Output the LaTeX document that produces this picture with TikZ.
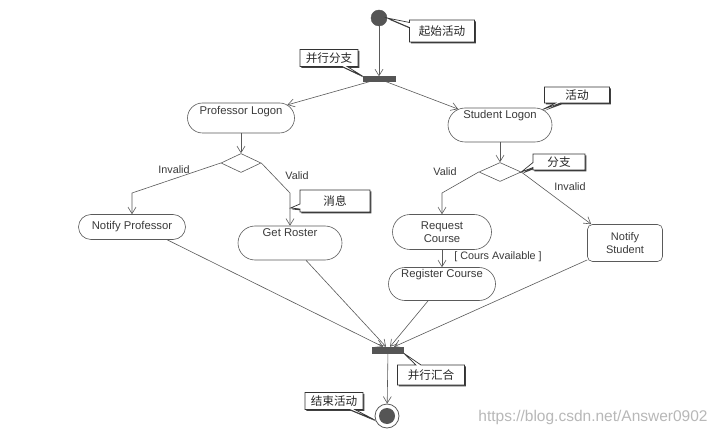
\documentclass[tikz,border=0pt]{standalone}
\usepackage{fontspec}
\setmainfont{Liberation Sans}
\newfontfamily\cjk{Noto Sans CJK SC}
\usetikzlibrary{shapes.misc,shapes.geometric,shapes.callouts,shadows,arrows.meta}
\definecolor{ln}{HTML}{5A5A5A}
\definecolor{tx}{HTML}{3A3A3A}
\definecolor{barc}{HTML}{555555}
\begin{document}
\begin{tikzpicture}[x=1pt,y=-1pt,
  act/.style={rounded rectangle, draw=ln, line width=0.6pt, fill=white,
    font=\fontsize{11.3}{12.5}\selectfont, text=tx, inner sep=0pt, align=center},
  nsbox/.style={rectangle, rounded corners=5pt, draw=ln, line width=0.6pt, fill=white,
    font=\fontsize{11}{13}\selectfont, text=tx, inner sep=0pt, align=center},
  dec/.style={diamond, draw=ln, line width=0.6pt, inner sep=0pt},
  barnode/.style={rectangle, fill=barc, draw=barc, inner sep=0pt},
  flow/.style={draw=ln, line width=0.6pt, -{Straight Barb[length=6.5pt,width=8pt]}},
  lab/.style={font=\fontsize{10.8}{12}\selectfont, text=tx, inner sep=1pt},
  note/.style={rectangle callout, draw=black!80, fill=white, line width=0.7pt,
    font=\cjk\fontsize{11.6}{12}\selectfont, text=black!85, inner sep=0pt,
    callout pointer width=5pt,
    drop shadow={shadow xshift=1.4pt, shadow yshift=-1.4pt, fill=black!75, opacity=1}},
  wm/.style={font=\fontsize{15.5}{17}\selectfont, text=black!28, inner sep=0pt}
]
\useasboundingbox (0,0) rectangle (719,435);
\fill[white] (0,0) rectangle (719,435);

% start / fork
\node[circle, fill=barc, draw=barc, minimum size=16pt, inner sep=0pt] (start) at (379,18) {};
\node[barnode, minimum width=32pt, minimum height=5pt] (fork) at (379,79) {};

% activities
\node[act, minimum width=107pt, minimum height=30pt, text height=8pt, text depth=14pt] (prof) at (241,118) {Professor Logon};
\node[act, minimum width=104pt, minimum height=34pt, text height=8pt, text depth=20pt] (stud) at (500,125) {Student Logon};
\node[dec, minimum width=40pt, minimum height=19pt] (pdec) at (241,163) {};
\node[dec, minimum width=42pt, minimum height=19pt] (sdec) at (500,172) {};
\node[act, minimum width=107pt, minimum height=25pt] (np) at (132,227) {Notify Professor};
\node[act, minimum width=104pt, minimum height=34pt, text height=8pt, text depth=20pt] (gr) at (290,243) {Get Roster};
\node[act, minimum width=99pt, minimum height=35pt] (rc) at (442,232) {Request\\Course};
\node[act, minimum width=107pt, minimum height=33pt, text height=8pt, text depth=22pt] (reg) at (442,284) {Register Course};
\node[nsbox, minimum width=75pt, minimum height=37pt] (ns) at (625,243) {Notify\\Student};

% join / end
\node[barnode, minimum width=31pt, minimum height=6pt] (join) at (388,350) {};
\node[circle, draw=ln, line width=0.8pt, fill=white, minimum size=24pt, inner sep=0pt] (end) at (387,416) {};
\node[circle, fill=barc, minimum size=16pt, inner sep=0pt] (endin) at (end.center) {};

% bend points
\coordinate (pL) at (132,193);
\coordinate (pR) at (290,193);
\coordinate (msg) at (290.5,208);
\coordinate (sL) at (442,193);

% connectors
\draw[flow] (start) -- (fork);
\draw[flow] (fork) -- (prof);
\draw[flow] (fork) -- (stud);
\draw[flow] (prof.south) -- (pdec.north);
\draw[flow] (pdec.west) -- (pL) -- (np.north);
\draw[flow] (pdec.east) -- (pR) -- (gr.north);
\draw[flow] (stud.south) -- (sdec.north);
\draw[flow] (sdec.west) -- (sL) -- (rc.north);
\draw[flow] (sdec.east) -- ([xshift=4pt]ns.north west);
\draw[flow] (rc.south) -- (reg.north);
\draw[flow] (np.-20) -- ([xshift=-5pt]join.north);
\draw[flow] (gr) -- ([xshift=-2pt]join.north);
\draw[flow] (reg) -- ([xshift=2pt]join.north);
\draw[flow] (ns) -- ([xshift=6pt]join.north);
\draw[flow] (join) -- (end);

% guard labels
\node[lab] (l1) at (174,170) {Invalid};
\node[lab] (l2) at (297,176) {Valid};
\node[lab] (l3) at (445,172) {Valid};
\node[lab] (l4) at (570,187) {Invalid};
\node[lab] (l5) at (498,257) {[ Cours Available ]};

% callouts
\node[note, minimum width=65pt, minimum height=22pt, callout absolute pointer={(start.east)}] (n1) at (442,31) {起始活动};
\node[note, minimum width=58pt, minimum height=17pt, callout absolute pointer={(fork.north west)}] (n2) at (329,58) {并行分支};
\node[note, minimum width=65pt, minimum height=16pt, callout absolute pointer={(stud.20)}] (n3) at (577,95) {活动};
\node[note, minimum width=70pt, minimum height=22pt, callout absolute pointer={(msg)}] (n4) at (335,201) {消息};
\node[note, minimum width=52pt, minimum height=16pt, callout absolute pointer={(sdec.east)}] (n5) at (559,162) {分支};
\node[note, minimum width=67pt, minimum height=20pt, callout absolute pointer={(join.south east)}] (n6) at (431,375) {并行汇合};
\node[note, minimum width=58pt, minimum height=17pt, callout absolute pointer={(end.200)}] (n7) at (334,401) {结束活动};

% watermark
\node[wm] (wm) at (593,417) {https://blog.csdn.net/Answer0902};
\end{tikzpicture}
\end{document}
